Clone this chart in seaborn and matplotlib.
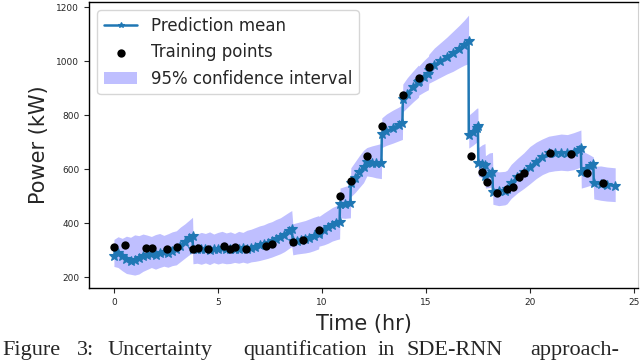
import matplotlib
matplotlib.use("Agg")
import matplotlib.pyplot as plt
import seaborn as sns

# ---- data ----
# training observations (hr, kW)
train_t = [0.00, 0.53, 1.54, 1.83, 2.55, 3.03, 3.80, 4.04, 4.52, 5.29, 5.58, 5.82,
           6.35, 7.31, 7.60, 8.61, 9.09, 9.86, 10.87, 11.39, 12.16, 12.88, 13.89,
           14.66, 15.14, 17.16, 17.69, 17.93, 18.41, 18.89, 19.18, 19.47, 19.71,
           20.96, 21.97, 22.74, 23.51]
train_y = [311, 319, 307, 307, 304, 311, 304, 307, 304, 315, 304, 311,
           304, 315, 322, 330, 337, 374, 500, 556, 648, 759, 874,
           937, 978, 648, 589, 552, 511, 526, 533, 570, 585,
           659, 656, 585, 548]

# prediction mean (repeated times = jumps at observations)
mean_t = [0.00, 0.20, 0.40, 0.60, 0.80, 1.00, 1.20, 1.40, 1.60, 1.80, 2.00, 2.20,
          2.40, 2.60, 2.80, 3.00, 3.20, 3.40, 3.60, 3.78, 3.80,
          4.00, 4.20, 4.40, 4.60, 4.80, 5.00, 5.20, 5.40, 5.60, 5.80, 6.00, 6.20,
          6.40, 6.60, 6.80, 7.00, 7.20, 7.40, 7.60, 7.80, 8.00, 8.20, 8.40, 8.55, 8.60,
          8.80, 9.00, 9.20, 9.40, 9.60, 9.84, 9.86, 10.10, 10.30, 10.50, 10.70, 10.85, 10.87,
          11.10, 11.37, 11.39, 11.60, 11.80, 12.00, 12.16, 12.40, 12.60, 12.86, 12.88,
          13.10, 13.40, 13.70, 13.87, 13.89, 14.10, 14.40, 14.64, 14.66, 14.90, 15.12,
          15.14, 15.40, 15.70, 16.00, 16.30, 16.60, 16.85, 17.05, 17.06,
          17.25, 17.45, 17.50, 17.52, 17.70, 17.84, 17.86, 18.05, 18.20, 18.22, 18.50,
          18.80, 18.90, 19.10, 19.40, 19.70, 20.00, 20.30, 20.60, 20.90, 21.20, 21.50,
          21.80, 22.10, 22.35, 22.45, 22.47, 22.70, 22.90, 23.05, 23.07, 23.40, 23.70, 24.10]
mean_y = [280, 288, 277, 268, 262, 265, 270, 277, 283, 287, 284, 289,
          293, 290, 297, 303, 316, 330, 344, 354, 304,
          306, 303, 305, 302, 306, 304, 307, 305, 303, 306, 305, 307,
          306, 310, 313, 318, 322, 328, 333, 340, 348, 358, 370, 380, 334,
          336, 338, 341, 345, 352, 360, 368, 376, 386, 395, 402, 406, 470,
          471, 474, 548, 568, 588, 608, 626, 624, 622, 621, 730,
          740, 752, 764, 770, 860, 880, 905, 922, 926, 940, 952,
          968, 985, 1000, 1015, 1030, 1045, 1060, 1075, 726,
          738, 752, 760, 622, 618, 614, 574, 582, 590, 516, 518,
          521, 526, 548, 572, 588, 608, 628, 645, 658, 660, 661,
          660, 663, 672, 678, 589, 600, 612, 620, 548, 546, 542, 538]
band_lo = [240, 236, 224, 214, 211, 208, 212, 222, 229, 236, 230, 236,
           241, 237, 243, 246, 258, 270, 282, 290, 250,
           252, 248, 253, 247, 254, 249, 253, 250, 251, 255, 252, 256,
           252, 257, 259, 262, 266, 270, 275, 281, 287, 295, 306, 314, 283,
           286, 288, 290, 293, 298, 305, 315, 320, 326, 334, 339, 342, 420,
           418, 420, 498, 514, 532, 550, 575, 572, 568, 565, 680,
           688, 696, 705, 710, 812, 828, 850, 866, 874, 885, 894,
           918, 928, 940, 952, 962, 975, 985, 990, 678,
           688, 700, 705, 575, 568, 562, 530, 532, 535, 470, 465,
           468, 472, 492, 512, 528, 546, 565, 580, 590, 594, 596,
           594, 598, 605, 610, 530, 535, 540, 538, 490, 485, 482, 480]
band_hi = [340, 350, 344, 352, 348, 357, 354, 360, 356, 351, 358, 362,
           355, 361, 368, 372, 386, 397, 410, 422, 362,
           360, 366, 362, 368, 360, 366, 370, 364, 368, 362, 370, 366,
           374, 378, 384, 390, 394, 401, 406, 414, 420, 430, 440, 447, 398,
           402, 406, 410, 416, 422, 428, 425, 438, 448, 458, 465, 470, 530,
           536, 542, 605, 628, 650, 670, 680, 686, 690, 695, 790,
           804, 818, 830, 838, 915, 938, 965, 985, 982, 1002, 1018,
           1025, 1048, 1068, 1088, 1110, 1132, 1152, 1170, 800,
           812, 826, 826, 680, 690, 695, 650, 660, 662, 596, 590,
           592, 596, 618, 640, 660, 684, 700, 712, 722, 726, 730,
           728, 735, 742, 745, 670, 660, 652, 645, 610, 612, 608, 605]

x_ticks = [0, 5, 10, 15, 20, 25]
y_ticks = [200, 400, 600, 800, 1000, 1200]

caption_words = ["Figure", "3:", "Uncertainty", "quantification", "in", "SDE-RNN", "approach-"]

# ---- plot ----
sns.set_style("ticks")
plt.rcParams["font.family"] = ["DejaVu Sans"]

fig = plt.figure(figsize=(6.4, 3.61), dpi=100)
ax = fig.add_axes([0.139, 0.202, 0.858, 0.792])

line_col = "#1f77b4"
sns.lineplot(x=mean_t, y=mean_y, estimator=None, sort=False, ax=ax,
             color=line_col, lw=1.8, marker="*", markersize=7,
             markeredgecolor=line_col, markeredgewidth=0.8,
             label="Prediction mean", zorder=2)
sns.scatterplot(x=train_t, y=train_y, ax=ax, color="black", s=36,
                linewidth=0, label="Training points", zorder=3)
ax.fill_between(mean_t, band_lo, band_hi, color="blue", alpha=0.25, lw=0,
                label="95% confidence interval", zorder=1)

ax.set_xlim(-1.2, 25.2)
ax.set_ylim(160, 1218)
ax.set_xticks(x_ticks)
ax.set_yticks(y_ticks)
ax.tick_params(labelsize=6.5, length=3.5, width=0.8)
ax.set_xlabel("Time (hr)", fontsize=15, labelpad=5)
ax.set_ylabel("Power (kW)", fontsize=15, labelpad=5)
for s in ["left", "bottom", "top"]:
    ax.spines[s].set_color("black")
    ax.spines[s].set_linewidth(1.0)
ax.spines["right"].set_color("#d0d0d0")

# legend handle keeps the small star of the original
leg = ax.legend(loc="upper left", fontsize=12)
leg.legend_handles[0].set_markersize(4)

# caption under the figure (kept fully inside the picture)
word_x = [2, 77, 107, 243, 378, 407, 530]
for w, px in zip(caption_words, word_x):
    fig.text(px / 640, 0.016, w, family="Liberation Serif", fontsize=16,
             va="baseline", ha="left")

fig.savefig("out.png", dpi=100)
